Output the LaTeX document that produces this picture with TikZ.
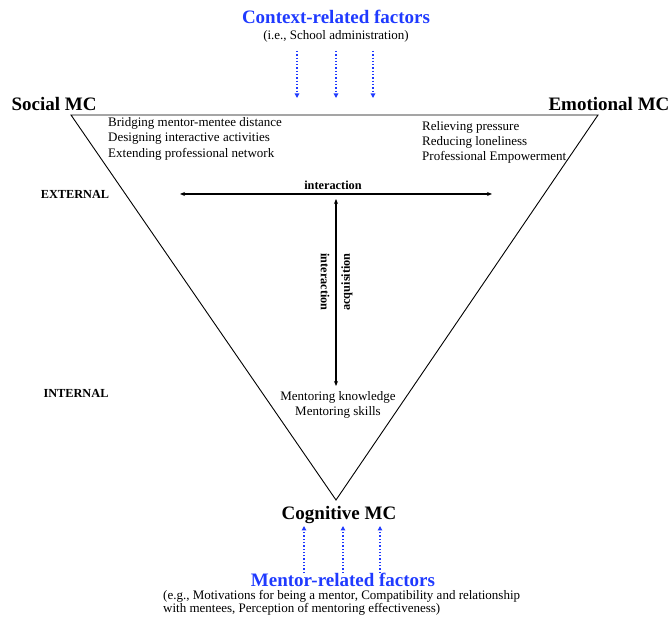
\documentclass[tikz,border=0pt]{standalone}
\usepackage{fontspec}
\setmainfont{Liberation Serif}
\usetikzlibrary{arrows.meta}
\definecolor{fblue}{RGB}{31,58,255}
\tikzset{
  title/.style={font=\fontsize{19}{22}\selectfont\bfseries, inner sep=0pt},
  btitle/.style={title, text=fblue},
  body/.style={font=\fontsize{13}{15.5}\selectfont, inner sep=0pt},
  lab/.style={font=\fontsize{12.3}{14}\selectfont\bfseries, inner sep=0pt},
  infl/.style={fblue, dotted, line width=1.3pt, -{Triangle[length=4.5pt,width=4.5pt]}},
  link/.style={line width=1.1pt, {Stealth[length=5pt,width=4pt]}-{Stealth[length=5pt,width=4pt]}},
}
\begin{document}
\begin{tikzpicture}[x=1pt,y=-1pt]
\useasboundingbox (0,0) rectangle (670,617);
% triangle
\coordinate (tl) at (71,115);
\coordinate (tr) at (598,115);
\coordinate (bt) at (336,500);
\draw[line width=0.9pt, line join=miter] (tl) -- (tr) -- (bt) -- cycle;
% corner titles
\node[title] (social) at (54,104) {Social MC};
\node[title] (emot) at (609,104) {Emotional MC};
\node[title] (cogn) at (339,515) {Cognitive MC};
% context factors
\node[btitle] (ctx) at (336,17) {Context-related factors};
\node[body] (ctxsub) at (336,36.5) {(i.e., School administration)};
\coordinate (c1s) at (297,51); \coordinate (c1e) at (297,98);
\coordinate (c2s) at (336,51); \coordinate (c2e) at (336,98);
\coordinate (c3s) at (373,51); \coordinate (c3e) at (373,98);
\draw[infl] (c1s) -- (c1e);
\draw[infl] (c2s) -- (c2e);
\draw[infl] (c3s) -- (c3e);
% text blocks
\node[body, align=left, anchor=north west] (soctxt) at (108,117) {Bridging mentor-mentee distance\\Designing interactive activities\\Extending professional network};
\node[body, align=left, anchor=north west, font=\fontsize{13}{15}\selectfont] (emotxt) at (422,121) {Relieving pressure\\Reducing loneliness\\Professional Empowerment};
\node[body, align=center] (cogtxt) at (338,405) {Mentoring knowledge\\Mentoring skills};
% labels
\node[lab] (ext) at (75,194) {EXTERNAL};
\node[lab] (int) at (76,393) {INTERNAL};
% interaction arrows
\coordinate (hl) at (180,194);
\coordinate (hr) at (492,194);
\draw[link] (hl) -- (hr);
\node[lab] (hint) at (333,185) {interaction};
\coordinate (vt) at (336,199);
\coordinate (vb) at (336,386);
\draw[link] (vt) -- (vb);
\node[lab, rotate=-90] (vint) at (325,282) {interaction};
\node[lab, rotate=90] (vacq) at (347,282) {acquisition};
% mentor factors
\coordinate (m1s) at (304,573); \coordinate (m1e) at (304,526);
\coordinate (m2s) at (343,573); \coordinate (m2e) at (343,526);
\coordinate (m3s) at (380,573); \coordinate (m3e) at (380,526);
\draw[infl] (m1s) -- (m1e);
\draw[infl] (m2s) -- (m2e);
\draw[infl] (m3s) -- (m3e);
\node[btitle] (ment) at (343,580) {Mentor-related factors};
\node[body, align=left, anchor=north west, font=\fontsize{13}{13}\selectfont] (mentsub) at (163,590) {(e.g., Motivations for being a mentor, Compatibility and relationship\\with mentees, Perception of mentoring effectiveness)};
\end{tikzpicture}
\end{document}
